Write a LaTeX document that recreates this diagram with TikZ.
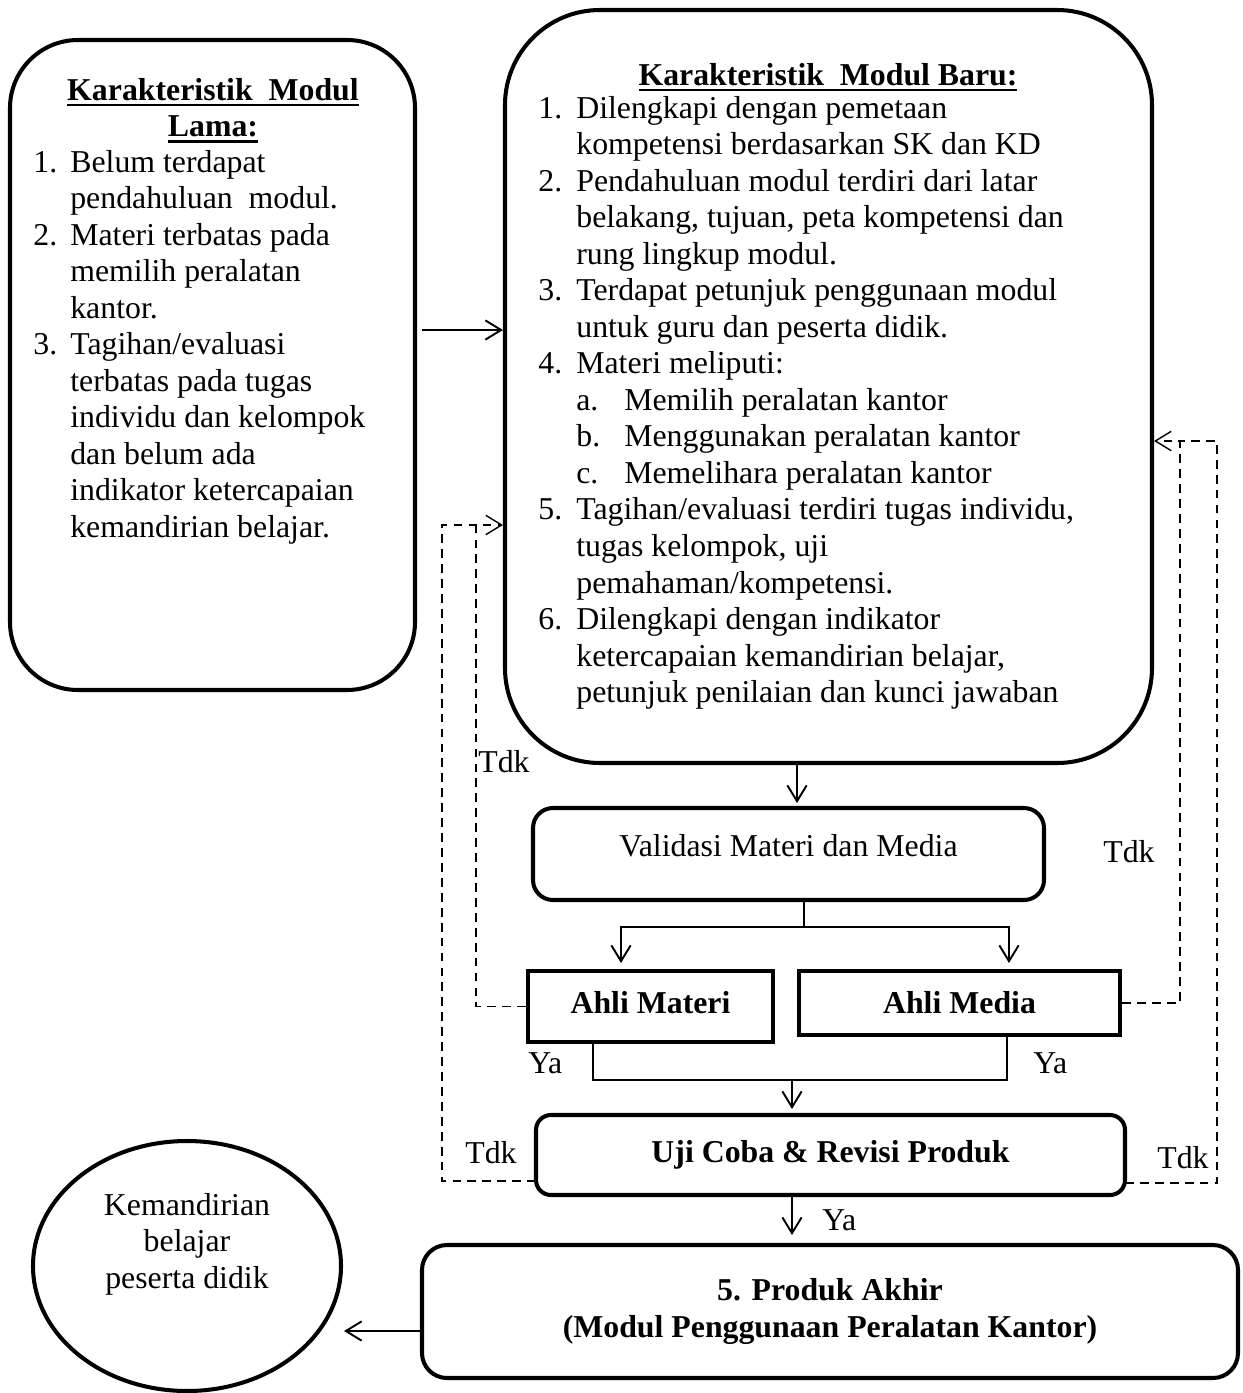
\documentclass[tikz,border=0pt]{standalone}
\usepackage{fontspec}
\setmainfont{Liberation Serif}
\usepackage{tikz}
\usetikzlibrary{arrows.meta, positioning, shapes.geometric, calc}
\newlength{\pxu}
\setlength{\pxu}{0.02cm}
\newcommand{\basefont}{\fontsize{18.1pt}{20.8pt}\selectfont}
\newcommand{\headline}[1]{\vtop{\hbox{\textbf{#1}}\kern1.8pt\hrule height 1.6pt}}
\newcommand{\numl}[1]{\makebox[0.74cm][l]{#1}}
\newcommand{\indl}{\hspace*{0.74cm}}
\newcommand{\numr}[1]{\makebox[0.76cm][l]{#1}}
\newcommand{\indr}{\hspace*{0.76cm}}
\newcommand{\subr}[1]{\hspace*{0.76cm}\makebox[0.96cm][l]{#1}}
\tikzstyle{roundbox} = [rectangle, draw, line width=2.3pt, inner sep=0pt]
\tikzstyle{ahlibox} = [rectangle, draw, line width=2.8pt, inner sep=0pt, font=\basefont\bfseries]
\tikzstyle{textblock} = [inner sep=0pt]
\tikzstyle{tag} = [inner sep=0pt, anchor=base west]
\tikzstyle{plain} = [line width=1.1pt]
\tikzstyle{arrow} = [line width=1.1pt, -{Straight Barb[length=9pt, width=11pt]}]
\tikzstyle{backline} = [line width=0.8pt, dash pattern=on 5pt off 3.5pt]
\tikzstyle{backarrow} = [backline, -{Straight Barb[length=9pt, width=11pt]}]

\begin{document}
\begin{tikzpicture}[x=0.02cm, y=-0.02cm, font=\basefont]
  \useasboundingbox (0,0) rectangle (1243,1393);

  % Old module
  \node (lama) [roundbox, rounded corners=68\pxu, minimum width=405\pxu, minimum height=650\pxu] at (212.5,365) {};
  \node (lamahead) [textblock, anchor=base] at (213,100)
    {\begin{tabular}[t]{@{}c@{}}\headline{Karakteristik\ \ Modul}\\ \headline{Lama:}\end{tabular}};
  \node (lamalist) [textblock, anchor=base west] at (33,172)
    {\begin{tabular}[t]{@{}l@{}}
      \numl{1.}Belum terdapat\\
      \indl pendahuluan\ \ modul.\\
      \numl{2.}Materi terbatas pada\\
      \indl memilih peralatan\\
      \indl kantor.\\
      \numl{3.}Tagihan/evaluasi\\
      \indl terbatas pada tugas\\
      \indl individu dan kelompok\\
      \indl dan belum ada\\
      \indl indikator ketercapaian\\
      \indl kemandirian belajar.
    \end{tabular}};

  % New module
  \node (baru) [roundbox, rounded corners=95\pxu, minimum width=647\pxu, minimum height=753\pxu] at (828.5,386.5) {};
  \node (baruhead) [textblock, anchor=base] at (828,85) {\headline{Karakteristik\ \ Modul Baru:}};
  \node (barulist) [textblock, anchor=base west] at (538,118)
    {\begin{tabular}[t]{@{}l@{}}
      \numr{1.}Dilengkapi dengan pemetaan\\
      \indr kompetensi berdasarkan SK dan KD\\
      \numr{2.}Pendahuluan modul terdiri dari latar\\
      \indr belakang, tujuan, peta kompetensi dan\\
      \indr rung lingkup modul.\\
      \numr{3.}Terdapat petunjuk penggunaan modul\\
      \indr untuk guru dan peserta didik.\\
      \numr{4.}Materi meliputi:\\
      \subr{a.}Memilih peralatan kantor\\
      \subr{b.}Menggunakan peralatan kantor\\
      \subr{c.}Memelihara peralatan kantor\\
      \numr{5.}Tagihan/evaluasi terdiri tugas individu,\\
      \indr tugas kelompok, uji\\
      \indr pemahaman/kompetensi.\\
      \numr{6.}Dilengkapi dengan indikator\\
      \indr ketercapaian kemandirian belajar,\\
      \indr petunjuk penilaian dan kunci jawaban
    \end{tabular}};

  % Validation
  \node (valid) [roundbox, rounded corners=20\pxu, minimum width=511\pxu, minimum height=92\pxu, text depth=10pt] at (788.5,854)
    {Validasi Materi dan Media};
  \node (materi) [ahlibox, minimum width=245\pxu, minimum height=71\pxu, text depth=5pt] at (650.5,1006.5) {Ahli Materi};
  \node (media) [ahlibox, minimum width=321\pxu, minimum height=64\pxu] at (959.5,1003) {Ahli Media};

  % Trial and final product
  \node (uji) [roundbox, rounded corners=15\pxu, minimum width=589\pxu, minimum height=80\pxu, font=\basefont\bfseries] at (830.5,1155)
    {Uji Coba \& Revisi Produk};
  \node (produk) [roundbox, rounded corners=25\pxu, minimum width=816\pxu, minimum height=133\pxu, align=center, font=\basefont\bfseries] at (830,1311.5)
    {5. Produk Akhir\\ (Modul Penggunaan Peralatan Kantor)};
  \node (mandiri) [ellipse, draw, line width=2.3pt, inner sep=0pt, minimum width=308\pxu, minimum height=250\pxu] at (187,1266) {};
  \node (mandiritxt) [textblock, anchor=base] at (187,1215)
    {\begin{tabular}[t]{@{}c@{}}Kemandirian\\ belajar\\ peserta didik\end{tabular}};

  % Labels
  \node (tdk1) [tag] at (478,772) {Tdk};
  \node (tdk2) [tag] at (1103,862) {Tdk};
  \node (ya1) [tag] at (528,1073) {Ya};
  \node (ya2) [tag] at (1033,1073) {Ya};
  \node (tdk3) [tag] at (465,1163) {Tdk};
  \node (tdk4) [tag] at (1157,1168) {Tdk};
  \node (ya3) [tag] at (822,1230) {Ya};

  % Connector points
  \coordinate (lb) at (422,330);
  \coordinate (bvt) at (797,803);
  \coordinate (vs) at (804,927);
  \coordinate (vml) at (621,963);
  \coordinate (vmr) at (1009,963);
  \coordinate (yl) at (593,1080);
  \coordinate (yr) at (1007,1080);
  \coordinate (yu) at (792,1080);
  \coordinate (yut) at (792,1109);
  \coordinate (up) at (792,1235);
  \coordinate (pm) at (344,1331);
  \coordinate (lt) at (476,525);
  \coordinate (lo) at (442,525);
  \coordinate (ujil) at (536,1181);
  \coordinate (rt) at (1180,441);
  \coordinate (ro) at (1217,441);
  \coordinate (ujir) at (1125,1183);

  % Main flow
  \draw[arrow] (lb) -- (lb -| baru.west);
  \draw[arrow] (baru.south -| bvt) -- (bvt);
  \draw[plain] (valid.south -| vs) -- (vs);
  \draw[arrow] (vs) -| (vml);
  \draw[arrow] (vs) -| (vmr);
  \draw[plain] (materi.south -| yl) -- (yl) -- (yr) -- (media.south -| yr);
  \draw[arrow] (yu) -- (yut);
  \draw[arrow] (uji.south -| up) -- (up);
  \draw[arrow] (produk.west |- pm) -- (pm);

  % Revision loops
  \draw[backarrow] (materi.west) -| (lt) -- (lt -| baru.west);
  \draw[backline] (ujil) -| (lo) -- (lt);
  \draw[backarrow] (media.east) -| (rt) -- (rt -| baru.east);
  \draw[backline] (ujir) -| (ro) -- (rt);
\end{tikzpicture}
\end{document}
